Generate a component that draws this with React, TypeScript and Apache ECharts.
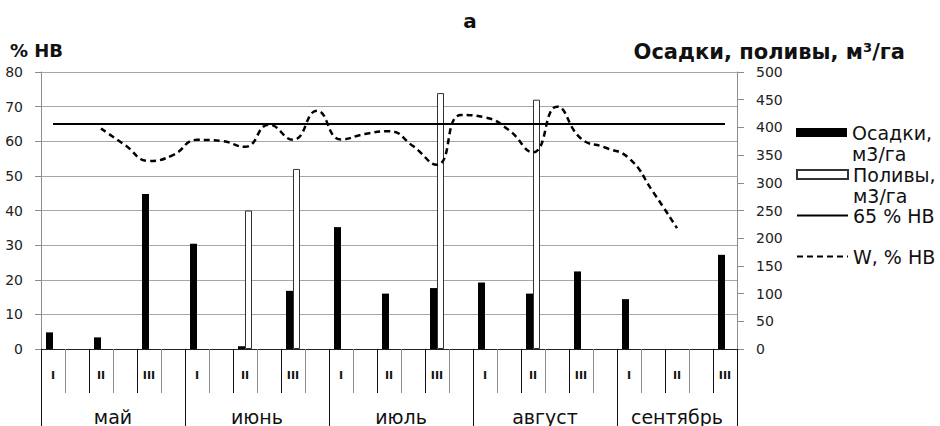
import React, { useEffect, useRef } from 'react';
import * as echarts from 'echarts';

// Sub-periods (decades) of each month; September has no trailing gap slot
const periods = [
  'I', '', 'II', '', 'III', '',
  'I', '', 'II', '', 'III', '',
  'I', '', 'II', '', 'III', '',
  'I', '', 'II', '', 'III', '',
  'I', '', 'II', '', 'III',
];
const months = ['май', 'июнь', 'июль', 'август', 'сентябрь'];
const monthStarts = [0, 6, 12, 18, 24];
const monthLengths = [6, 6, 6, 6, 5];

// Осадки, м3/га (right axis)
const precipitation = [
  30, null, 21, null, 280, null,
  190, null, 5, null, 105, null,
  220, null, 100, null, 110, null,
  120, null, 100, null, 140, null,
  90, null, null, null, 170,
];
// Поливы, м3/га (right axis)
const irrigation = [
  null, null, null, null, null, null,
  null, null, 250, null, 325, null,
  null, null, null, null, 462, null,
  null, null, 450, null, null, null,
  null, null, null, null, null,
];
// 65 % НВ threshold (left axis)
const threshold = [
  65, 65, 65, 65, 65, 65,
  65, 65, 65, 65, 65, 65,
  65, 65, 65, 65, 65, 65,
  65, 65, 65, 65, 65, 65,
  65, 65, 65, 65, 65,
];
// W, % НВ (left axis)
const moisture = [
  null, null, 63.7, 58.9, 54.3, 56.0,
  60.4, 60.1, 58.4, 64.8, 60.4, 68.8,
  60.5, 62.1, 62.9, 58.6, 53.2, 67.6,
  66.9, 63.2, 56.8, 70.0, 60.8, 58.2,
  55.1, 45.4, 34.9, null, null,
];

const leftTicks = { min: 0, max: 80, interval: 10 };
const rightTicks = { min: 0, max: 500, interval: 50 };

const FONT = 'DejaVu Sans';

export default function App() {
  const ref = useRef<HTMLDivElement>(null);

  useEffect(() => {
    if (!ref.current) return;
    const chart = echarts.init(ref.current, undefined, { renderer: 'svg' });

    const monthLabels = periods.map(() => '');
    months.forEach((m, k) => {
      const len = monthLengths[k];
      const idx = monthStarts[k] + Math.floor(len / 2);
      monthLabels[idx] = len % 2 === 0 ? `{s|${m}}` : `{c|${m}}`;
    });

    const monthText = {
      fontFamily: FONT,
      fontSize: 19,
      lineHeight: 19,
      color: '#111',
    };

    const legendBase = {
      orient: 'vertical' as const,
      left: 796,
      padding: 0,
      itemGap: 0,
      itemWidth: 51,
      selectedMode: false,
    };
    const legendText = {
      fontFamily: FONT,
      fontSize: 19,
      lineHeight: 21,
      color: '#111',
    };

    chart.setOption({
      animation: false,
      backgroundColor: '#fff',
      title: [
        {
          text: 'а',
          left: 'center',
          top: 11,
          padding: 0,
          textStyle: { fontFamily: FONT, fontWeight: 'bold', fontSize: 20, lineHeight: 20, color: '#111' },
        },
        {
          text: '% НВ',
          left: 10,
          top: 41,
          padding: 0,
          textStyle: { fontFamily: FONT, fontWeight: 'bold', fontSize: 18, lineHeight: 18, color: '#111' },
        },
        {
          text: 'Осадки, поливы, м³/га',
          right: 35,
          top: 41,
          padding: 0,
          textStyle: { fontFamily: FONT, fontWeight: 'bold', fontSize: 21, lineHeight: 21, color: '#111' },
        },
      ],
      legend: [
        {
          ...legendBase,
          top: 101,
          itemHeight: 9,
          icon: 'rect',
          data: ['Осадки, м3/га'],
          formatter: () => ' \nОсадки,\nм3/га',
          textStyle: legendText,
        },
        {
          ...legendBase,
          top: 143,
          itemHeight: 9,
          icon: 'rect',
          data: ['Поливы, м3/га'],
          formatter: () => ' \nПоливы,\nм3/га',
          textStyle: legendText,
        },
        {
          ...legendBase,
          top: 205,
          itemHeight: 14,
          data: ['65 % НВ'],
          itemStyle: { opacity: 0 },
          textStyle: legendText,
        },
        {
          ...legendBase,
          top: 246,
          itemHeight: 14,
          data: ['W, % НВ'],
          itemStyle: { opacity: 0 },
          textStyle: legendText,
        },
      ],
      grid: { left: 41, right: 203, top: 72, bottom: 77, containLabel: false, outerBoundsMode: 'none' },
      xAxis: [
        {
          type: 'category',
          data: periods,
          position: 'bottom',
          axisLine: { show: true, onZero: false, lineStyle: { color: '#222', width: 1 } },
          axisTick: { show: true, interval: 0, length: 44, lineStyle: { color: '#8c8c8c' } },
          axisLabel: {
            interval: 0,
            margin: 21,
            fontFamily: FONT,
            fontWeight: 'bold',
            fontSize: 11,
            lineHeight: 11,
            color: '#111',
          },
          splitLine: { show: false },
        },
        {
          type: 'category',
          data: periods,
          position: 'bottom',
          axisLine: { show: false, onZero: false },
          axisTick: {
            show: true,
            interval: (i: number) => i % 2 === 0,
            length: 44,
            lineStyle: { color: '#111' },
          },
          axisLabel: { show: false },
          splitLine: { show: false },
        },
        {
          type: 'category',
          data: monthLabels,
          position: 'bottom',
          axisLine: { show: false, onZero: false },
          axisTick: {
            show: true,
            interval: (i: number) => monthStarts.includes(i),
            length: 80,
            lineStyle: { color: '#111' },
          },
          axisLabel: {
            interval: 0,
            margin: 58,
            ...monthText,
            rich: {
              s: { ...monthText, padding: [0, 24, 0, 0] },
              c: { ...monthText },
            },
          },
          splitLine: { show: false },
        },
      ],
      yAxis: [
        {
          type: 'value',
          position: 'left',
          ...leftTicks,
          axisLine: { show: true, lineStyle: { color: '#8c8c8c' } },
          axisTick: { show: true, length: 6, lineStyle: { color: '#8c8c8c' } },
          axisLabel: { margin: 18, fontFamily: FONT, fontSize: 14, color: '#222' },
          splitLine: { show: true, lineStyle: { color: '#a6a6a6', width: 1 } },
        },
        {
          type: 'value',
          position: 'right',
          ...rightTicks,
          axisLine: { show: true, lineStyle: { color: '#8c8c8c' } },
          axisTick: { show: true, length: 7, lineStyle: { color: '#8c8c8c' } },
          axisLabel: { margin: 19, fontFamily: FONT, fontSize: 14, color: '#222' },
          splitLine: { show: false },
        },
      ],
      series: [
        {
          name: 'Осадки, м3/га',
          type: 'bar',
          xAxisIndex: 0,
          yAxisIndex: 1,
          data: precipitation,
          barWidth: 7,
          barGap: '0%',
          itemStyle: { color: '#000' },
        },
        {
          name: 'Поливы, м3/га',
          type: 'bar',
          xAxisIndex: 0,
          yAxisIndex: 1,
          data: irrigation,
          barWidth: 7,
          barGap: '0%',
          itemStyle: { color: '#fff', borderColor: '#333', borderWidth: 1 },
        },
        {
          name: '65 % НВ',
          type: 'line',
          xAxisIndex: 0,
          yAxisIndex: 0,
          data: threshold,
          symbol: 'none',
          lineStyle: { color: '#000', width: 2 },
          itemStyle: { color: '#000' },
        },
        {
          name: 'W, % НВ',
          type: 'line',
          xAxisIndex: 0,
          yAxisIndex: 0,
          data: moisture,
          smooth: 0.5,
          symbol: 'none',
          lineStyle: { color: '#000', width: 2.5, type: [6, 4] },
          itemStyle: { color: '#000' },
        },
      ],
    });

    return () => chart.dispose();
  }, []);

  return (
    <div
      ref={ref}
      style={{ position: 'fixed', left: 0, top: 0, width: 940, height: 426, background: '#fff' }}
    />
  );
}
